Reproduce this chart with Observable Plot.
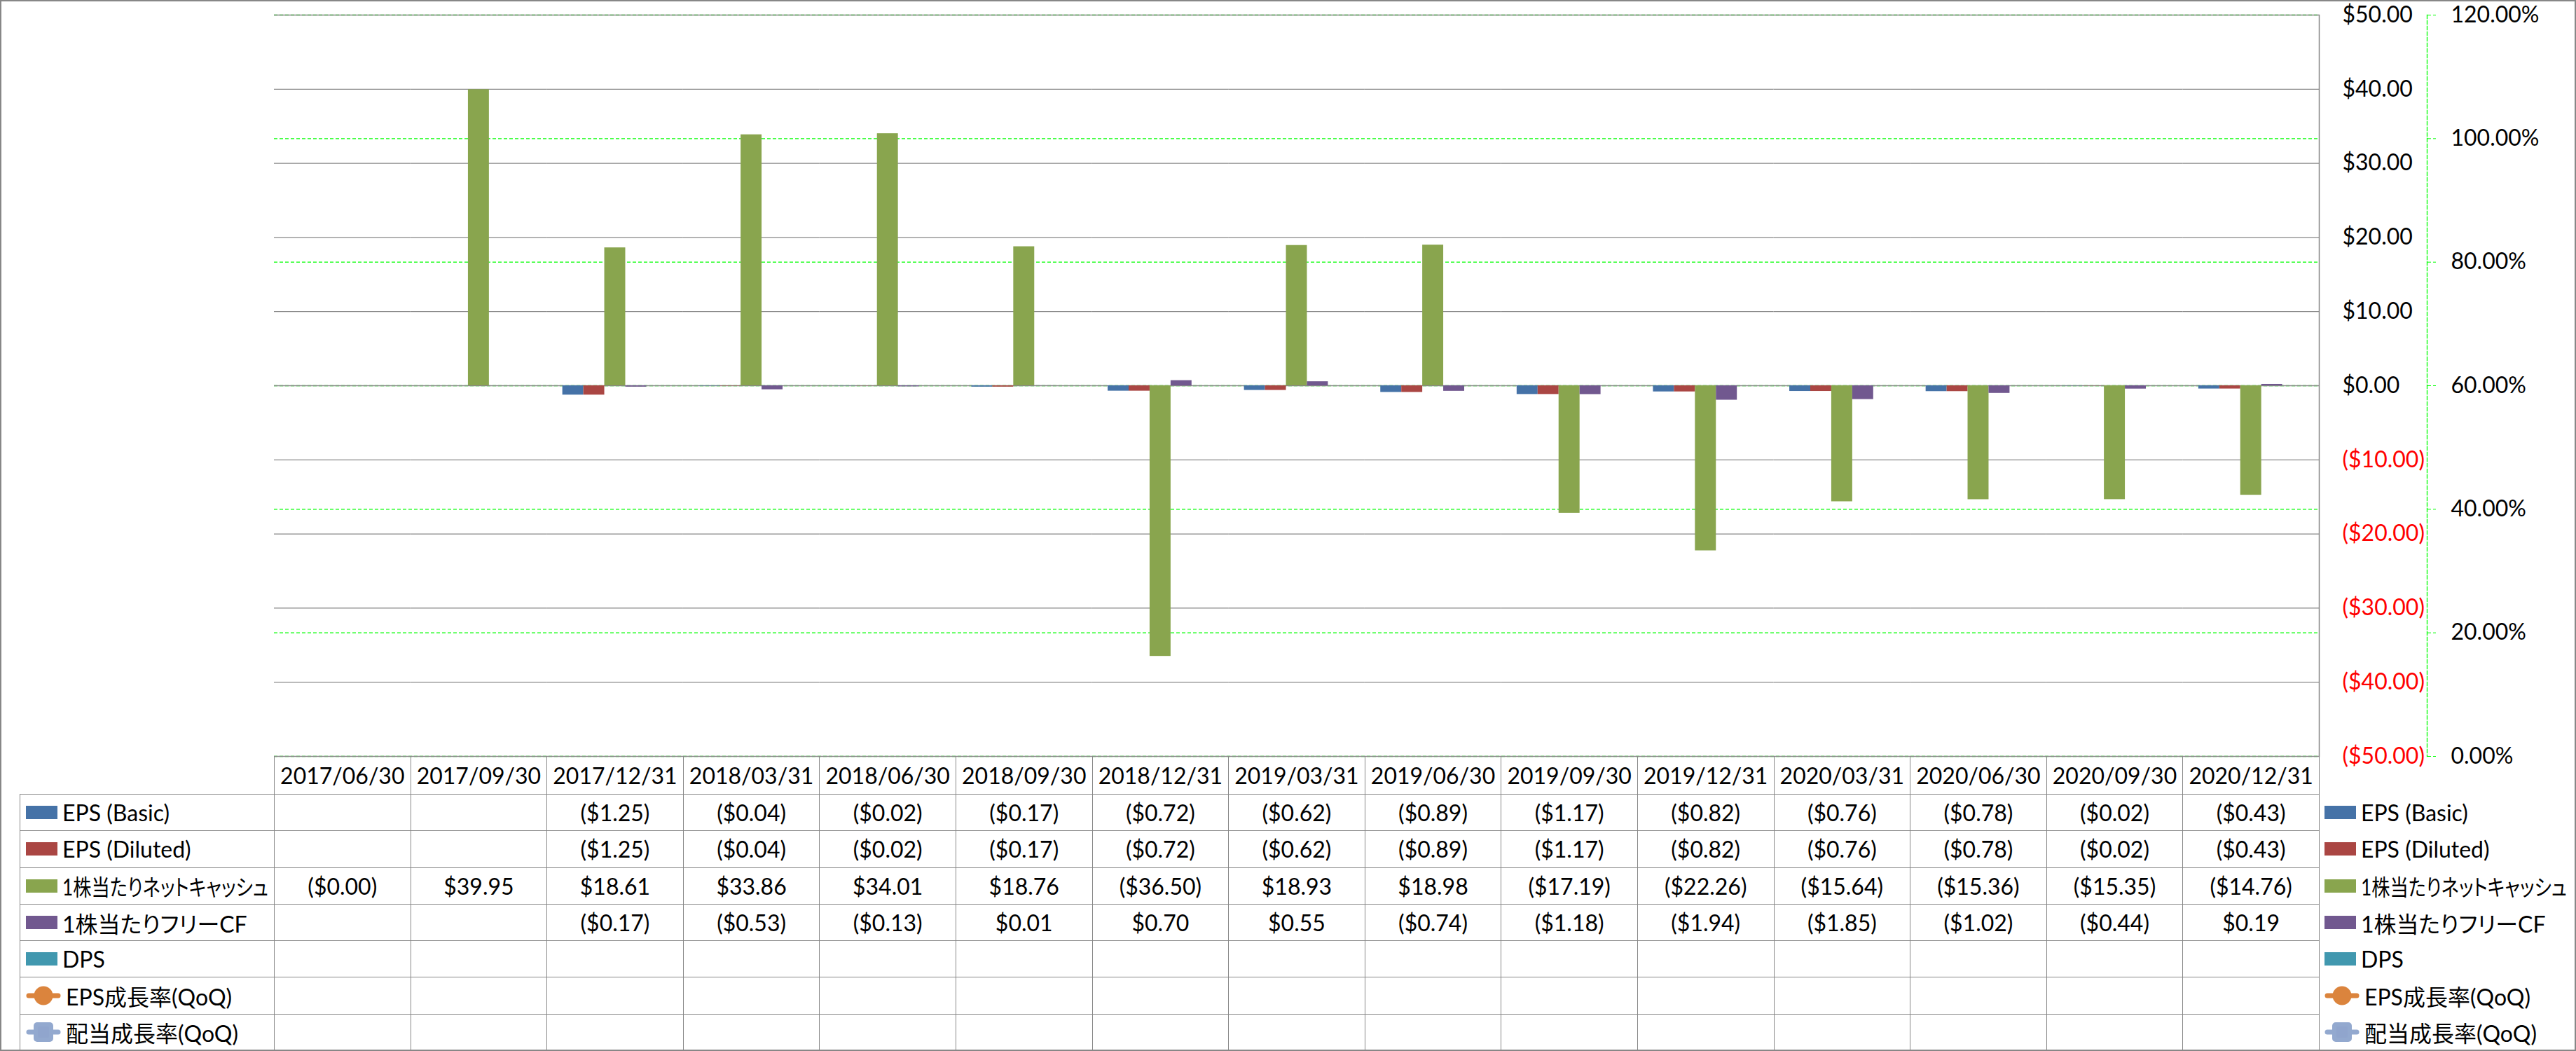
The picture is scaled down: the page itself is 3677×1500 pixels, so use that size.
<!DOCTYPE html>
<html>
<head>
<meta charset="utf-8">
<script src="https://cdn.jsdelivr.net/npm/d3@7"></script>
<script src="https://cdn.jsdelivr.net/npm/@observablehq/plot@0.6"></script>
<style>
html, body { margin: 0; padding: 0; background: #fff; }
#wrap { position: relative; width: 3677px; height: 1500px; overflow: hidden; background: #fff;
  font-family: Lato, "Noto Sans CJK JP", sans-serif; font-feature-settings: "palt"; }
.layer { position: absolute; left: 0; top: 0; }
#frame { position: absolute; left: 0; top: 0; width: 3677px; height: 1500px; box-sizing: border-box;
  border: 2px solid #878787; pointer-events: none; z-index: 10; }
#tbl { position: absolute; left: 28px; top: 1079px; width: 3649px; border-collapse: collapse; table-layout: fixed;
  font-size: 32px; color: #000; z-index: 5; }
#tbl td { border: 1px solid #878787; padding: 0; text-align: center; vertical-align: middle; white-space: nowrap; overflow: hidden; }
#tbl tr.head { height: 54px; }
#tbl tr.body { height: 52.3px; }
#tbl td.blank { border: none; }
#tbl td.lg { text-align: left; padding-left: 8px; }
#tbl td.rl { border: none; text-align: left; padding-left: 7px; }
.key { display: flex; align-items: center; gap: 7px; white-space: nowrap; }
.sw { display: inline-block; flex: 0 0 45px; width: 45px; height: 19px; }
.mk { flex: 0 0 50px; width: 50px; height: 30px; display: block; }
.tx { display: inline-block; flex: 0 0 auto; transform-origin: 0 50%; }
</style>
</head>
<body>
<div id="wrap">
  <div id="sec" class="layer"></div>
  <div id="pri" class="layer"></div>
  <table id="tbl"></table>
  <div id="frame"></div>
</div>
<script>
// ---- data ----
const dates = ["2017/06/30", "2017/09/30", "2017/12/31", "2018/03/31", "2018/06/30", "2018/09/30", "2018/12/31",
  "2019/03/31", "2019/06/30", "2019/09/30", "2019/12/31", "2020/03/31", "2020/06/30", "2020/09/30", "2020/12/31"];
const epsBasic = [null, null, -1.25, -0.04, -0.02, -0.17, -0.72, -0.62, -0.89, -1.17, -0.82, -0.76, -0.78, -0.02, -0.43];
const epsDiluted = [null, null, -1.25, -0.04, -0.02, -0.17, -0.72, -0.62, -0.89, -1.17, -0.82, -0.76, -0.78, -0.02, -0.43];
const netCashPerShare = [-0.001, 39.95, 18.61, 33.86, 34.01, 18.76, -36.50, 18.93, 18.98, -17.19, -22.26, -15.64, -15.36, -15.35, -14.76];
const fcfPerShare = [null, null, -0.17, -0.53, -0.13, 0.01, 0.70, 0.55, -0.74, -1.18, -1.94, -1.85, -1.02, -0.44, 0.19];
const dps = [null, null, null, null, null, null, null, null, null, null, null, null, null, null, null];
const epsGrowth = [null, null, null, null, null, null, null, null, null, null, null, null, null, null, null];
const divGrowth = [null, null, null, null, null, null, null, null, null, null, null, null, null, null, null];
const seriesNames = ["EPS (Basic)", "EPS (Diluted)", "1株当たりネットキャッシュ", "1株当たりフリーCF", "DPS", "EPS成長率(QoQ)", "配当成長率(QoQ)"];
const seriesKinds = ["bar", "bar", "bar", "bar", "bar", "lineCircle", "lineSquare"];
const seriesColors = ["#4572A7", "#AA4643", "#89A54E", "#71588F", "#4198AF", "#DB843D", "#93A9CF"];
const yTicks = [-50, -40, -30, -20, -10, 0, 10, 20, 30, 40, 50];
const pctTicks = [0, 0.2, 0.4, 0.6, 0.8, 1.0, 1.2];

const seriesValues = [epsBasic, epsDiluted, netCashPerShare, fcfPerShare, dps, epsGrowth, divGrowth];
const fmtMoney = v => v == null ? "" : (v < 0 ? "($" + Math.abs(v).toFixed(2) + ")" : "$" + v.toFixed(2));
const fmtPct = d3.format(".2%");

// ---- bar rows ----
const barSeries = seriesNames.slice(0, 5);
const barRows = [];
dates.forEach((date, i) => {
  barSeries.forEach((s, j) => {
    const v = seriesValues[j][i];
    if (v != null) barRows.push({date, series: s, value: v});
  });
});

const W = 3677, H = 1100;
const FONT = "Lato, 'Noto Sans CJK JP', sans-serif";

// ---- secondary axis layer (percent) ----
const secondary = Plot.plot({
  width: W, height: H,
  marginTop: 21, marginBottom: 21, marginLeft: 391, marginRight: 213,
  style: {background: "white", fontFamily: FONT, fontSize: "32px", overflow: "visible", color: "black"},
  y: {domain: [0, 1.2]},
  marks: [
    Plot.ruleY(pctTicks, {stroke: "#00ff00", strokeWidth: 1.3, strokeDasharray: "5,3", insetRight: 154}),
    Plot.frame({anchor: "right", stroke: "#00ff00", strokeWidth: 1.3, strokeDasharray: "5,3"}),
    Plot.frame({anchor: "right", stroke: "#878787", strokeWidth: 1.5, insetRight: 154}),
    Plot.axisY(pctTicks, {anchor: "right", tickSize: 12, tickPadding: 22, tickFormat: fmtPct,
      color: "black", stroke: "#00ff00", strokeDasharray: "5,3", label: null})
  ]
});
document.getElementById("sec").appendChild(secondary);

// ---- primary layer (bars, $ axis) ----
const primary = Plot.plot({
  width: W, height: H,
  marginTop: 21, marginBottom: 21, marginLeft: 391, marginRight: 367,
  style: {background: "transparent", fontFamily: FONT, fontSize: "32px", overflow: "visible", color: "black"},
  fx: {domain: dates, padding: 0, round: false, axis: null},
  x: {domain: barSeries, paddingInner: 0, paddingOuter: 0.75, round: false, axis: null},
  y: {domain: [-50, 50]},
  color: {domain: seriesNames, range: seriesColors},
  marks: [
    Plot.ruleY(yTicks, {stroke: "#878787", strokeWidth: 1.3}),
    Plot.barY(barRows, {fx: "date", x: "series", y: "value", fill: "series"}),
    Plot.axisY(yTicks.filter(d => d >= 0), {anchor: "right", tickSize: 0, tickPadding: 33, tickFormat: fmtMoney, color: "black", label: null}),
    Plot.axisY(yTicks.filter(d => d < 0), {anchor: "right", tickSize: 0, tickPadding: 33, tickFormat: fmtMoney, color: "#ff0000", label: null})
  ]
});
document.getElementById("pri").appendChild(primary);

// ---- data table ----
function keyHTML(i) {
  const c = seriesColors[i];
  let m;
  if (seriesKinds[i] === "bar") m = `<span class="sw" style="background:${c}"></span>`;
  else if (seriesKinds[i] === "lineCircle")
    m = `<svg class="mk" viewBox="0 0 50 30"><line x1="4" y1="15" x2="46" y2="15" stroke="${c}" stroke-width="7" stroke-linecap="round"/><circle cx="25" cy="15" r="13.5" fill="${c}"/></svg>`;
  else
    m = `<svg class="mk" viewBox="0 0 50 30"><line x1="4" y1="15" x2="46" y2="15" stroke="${c}" stroke-width="7" stroke-linecap="round"/><rect x="11" y="1" width="28" height="28" rx="5" fill="${c}"/><rect x="17" y="7" width="16" height="16" rx="2" fill="#8ea4cc" opacity="0.6"/></svg>`;
  return `<div class="key">${m}<span class="tx">${seriesNames[i]}</span></div>`;
}
const colW = (3310 - 391) / dates.length;
let html = `<colgroup><col style="width:363px">` + dates.map(() => `<col style="width:${colW}px">`).join("") + `<col style="width:367px"></colgroup>`;
html += `<tr class="head"><td class="blank"></td>` + dates.map(d => `<td>${d}</td>`).join("") + `<td class="blank"></td></tr>`;
seriesNames.forEach((name, i) => {
  html += `<tr class="body"><td class="lg">${keyHTML(i)}</td>` +
    seriesValues[i].map(v => `<td>${fmtMoney(v)}</td>`).join("") +
    `<td class="rl">${keyHTML(i)}</td></tr>`;
});
document.getElementById("tbl").innerHTML = html;

// fit long legend labels into the legend column width (condense horizontally)
const maxLabel = 294;
document.querySelectorAll("#tbl .tx").forEach(el => {
  const w = el.getBoundingClientRect().width;
  if (w > maxLabel) el.style.transform = `scaleX(${maxLabel / w})`;
});
</script>
</body>
</html>
